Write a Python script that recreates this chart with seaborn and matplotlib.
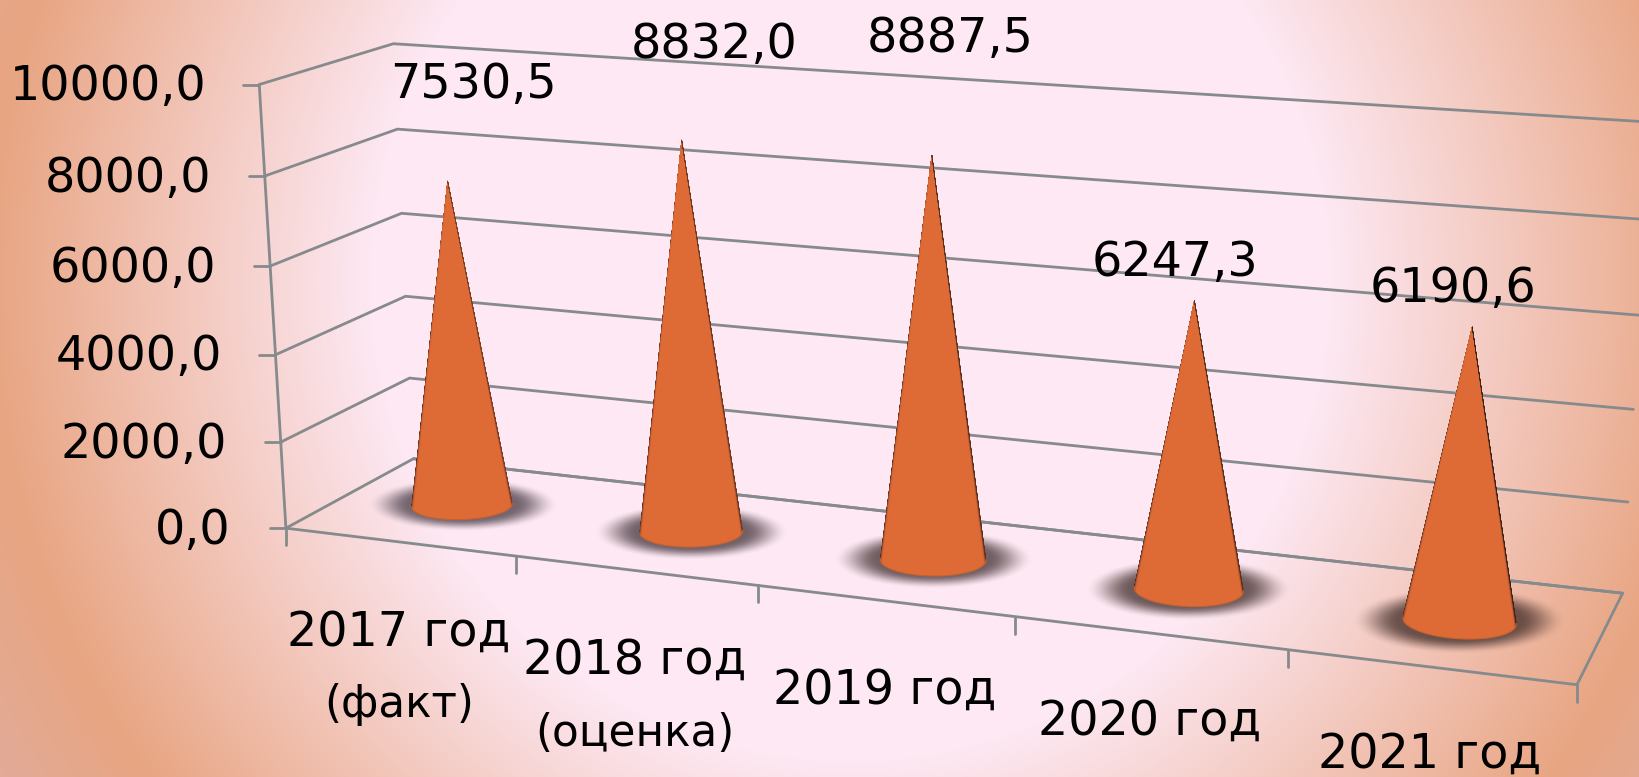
import numpy as np
import pandas as pd
import matplotlib
matplotlib.use("Agg")
import matplotlib.pyplot as plt
from matplotlib.collections import PolyCollection
from matplotlib.patches import Polygon
import seaborn as sns

# ---------- data ----------
categories = ["2017 год\n(факт)", "2018 год\n(оценка)", "2019 год", "2020 год", "2021 год"]
values = [7530.5, 8832.0, 8887.5, 6247.3, 6190.6]
value_labels = ["7530,5", "8832,0", "8887,5", "6247,3", "6190,6"]
y_ticks = [0, 2000, 4000, 6000, 8000, 10000]
y_tick_labels = ["0,0", "2000,0", "4000,0", "6000,0", "8000,0", "10000,0"]

# ---------- placement (screen pixels) ----------
W, H = 1640, 777
value_label_xy = [(473, 85), (714, 44), (950, 38), (1175, 263), (1453, 288)]
cat_label_xy = [(399, 632), (635, 660), (885, 690), (1150, 721), (1430, 754)]
second_line_dy = 73
ytick_label_xy = [(231, 531), (227, 445), (222, 357), (216, 269), (211, 178), (206, 87)]

# Camera calibration: (category pos, value, depth) -> screen pixel
calib = [
    (0, 10000, 0, 259, 83.3), (0, 8000, 0, 265, 175), (0, 2000, 0, 280, 441.7), (0, 0, 0, 286.4, 527.3),
    (0, 10000, 1, 393, 43.3), (0, 8000, 1, 397.5, 129), (0, 6000, 1, 402, 213), (0, 0, 1, 413, 459),
    (5, 0, 0, 1576.7, 684.3), (5, 0, 1, 1622.7, 592.7), (5, 2000, 1, 1628, 501.7), (5, 10000, 1, 1650, 121),
    (1, 0, 0, 515.7, 556.7), (2, 0, 0, 758, 585.7), (3, 0, 0, 1016, 617), (4, 0, 0, 1287.7, 650),
    (.5, 7530.5, .5, 448.7, 183), (1.5, 8832, .5, 682, 141), (2.5, 8887.5, .5, 931, 157),
    (3.5, 6247.3, .5, 1193.5, 301), (4.5, 6190.6, .5, 1473, 327),
]
rows = []
for x, y, z, u, v in calib:
    X = [x / 5, y / 1e4, z, 1]
    rows.append(X + [0, 0, 0, 0] + [-u / 1000 * c for c in X])
    rows.append([0, 0, 0, 0] + X + [-v / 1000 * c for c in X])
P = np.linalg.svd(np.array(rows))[2][-1].reshape(3, 4)


def project(x, y, z):
    x, y, z = np.broadcast_arrays(np.asarray(x, float), np.asarray(y, float), np.asarray(z, float))
    X = np.stack([x / 5, y / 1e4, z, np.ones_like(x)])
    q = P @ X
    return q[0] / q[2] * 1000, q[1] / q[2] * 1000


# ---------- figure ----------
sns.set_theme(style="white")
plt.rcParams["font.family"] = ["DejaVu Sans"]
fig = plt.figure(figsize=(W / 100, H / 100), dpi=100)
ax = fig.add_axes([0, 0, 1, 1])
ax.set_axis_off()

# background
yy, xx = np.mgrid[0:H, 0:W]
d = np.hypot(xx - 850, yy - 280)
stops = [0, 480, 860, 1000]
cols = np.array([(253, 232, 243), (253, 232, 243), (232, 165, 130), (225, 172, 155)], float) / 255
bg = np.dstack([np.interp(d, stops, cols[:, i]) for i in range(3)])
ax.imshow(bg, extent=(0, W, H, 0), aspect="auto", zorder=0)

LINE = "#868a8c"
LW = 2.0


def line3d(xs, ys, zs):
    u, v = project(xs, ys, zs)
    df = pd.DataFrame({"u": u, "v": v})
    sns.lineplot(data=df, x="u", y="v", sort=False, estimator=None, color=LINE,
                 linewidth=LW, ax=ax, zorder=2)


for t in y_ticks:
    line3d([0, 0, 5], [t, t, t], [0, 1, 1])
    u, v = project(0, t, 0)
    ax.plot([u - 16, u], [v, v], color=LINE, lw=LW, zorder=2)
line3d([0, 5, 5, 0], [0, 0, 0, 0], [0, 0, 1, 1])
line3d([0, 0], [0, 10000], [0, 0])
for k in range(6):
    u, v = project(k, 0, 0)
    ax.plot([u, u], [v, v + 17], color=LINE, lw=LW, zorder=2)

# cones
rx, rz = 0.2, 0.19
base_col = np.array([222, 106, 54]) / 255
dark_col = np.array([45, 28, 22]) / 255
th = np.linspace(0, 2 * np.pi, 361)[:-1]
for i, val in enumerate(values):
    cx = i + 0.5
    cz = 0.5
    cu, cv = project(cx, 0, cz)
    au, av = project(cx, val, cz)
    # shadow
    su, sv = project(cx + rx * np.cos(th), 0 * th, cz + rz * np.sin(th))
    srx = (su.max() - su.min()) / 2 * 1.9
    sry = (sv.max() - sv.min()) / 2 * 1.85
    gy, gx = np.mgrid[-1.2:1.2:160j, -1.2:1.2:320j]
    r = np.hypot(gx, gy)
    alpha = np.clip((1 - r) / 0.45, 0, 1)
    alpha = alpha * alpha * (3 - 2 * alpha) * 0.8
    shadow = np.zeros(gx.shape + (4,))
    shadow[..., :3] = (np.array([82, 68, 78]) * (1 - i / 4) + np.array([72, 50, 45]) * (i / 4)) / 255
    shadow[..., 3] = alpha
    ax.imshow(shadow, extent=(cu - 1.2 * srx, cu + 1.2 * srx, cv + 1.2 * sry, cv - 1.2 * sry),
              aspect="auto", zorder=3, interpolation="bilinear")
    # cone surface
    pu, pv = project(cx + rx * np.cos(th), 0 * th, cz + rz * np.sin(th))
    ax_dir = np.array([cu - au, cv - av])
    ax_dir /= np.hypot(*ax_dir)
    nrm = np.array([ax_dir[1], -ax_dir[0]])
    ang = np.arctan2((pu - au) * nrm[0] + (pv - av) * nrm[1], (pu - au) * ax_dir[0] + (pv - av) * ax_dir[1])
    il, ir = int(np.argmin(ang)), int(np.argmax(ang))
    low = int(np.argmax(pv))
    n = len(th)
    arc1 = [(il + k) % n for k in range(((ir - il) % n) + 1)]
    arc2 = [(ir + k) % n for k in range(((il - ir) % n) + 1)]
    arc = arc1 if low in arc1 else arc2
    outline = [(au, av)] + [(pu[a], pv[a]) for a in arc]
    ax.add_patch(Polygon(outline, closed=True, facecolor=base_col, edgecolor="none", zorder=4))
    lat = ang[arc] / max(abs(ang[il]), abs(ang[ir]))
    polys, colors = [], []
    for a, b, l in zip(arc[:-1], arc[1:], lat[:-1]):
        nn = np.sqrt(max(0.0, 1 - l * l))
        dk = np.clip(1 - nn / 0.3, 0, 1) ** 1.3
        if dk > 0:
            polys.append([(au, av), (pu[a], pv[a]), (pu[b], pv[b])])
            colors.append(tuple(base_col * (1 - dk) + dark_col * dk))
    ax.add_collection(PolyCollection(polys, facecolors=colors, edgecolors=colors, linewidths=0.25, zorder=5))
    ax.plot(pu[arc], pv[arc], color="#c4622f", lw=0.8, zorder=5)

# text
FS = 34.3
FS2 = 31.5
for lab, (u, v) in zip(y_tick_labels, ytick_label_xy):
    ax.text(u, v, lab, ha="right", va="center", fontsize=FS, color="black", zorder=6)
for lab, (u, v) in zip(value_labels, value_label_xy):
    ax.text(u, v, lab, ha="center", va="center", fontsize=FS, color="black", zorder=6)
for lab, (u, v) in zip(categories, cat_label_xy):
    for j, part in enumerate(lab.split("\n")):
        ax.text(u, v + j * second_line_dy, part, ha="center", va="center",
                fontsize=FS if j == 0 else FS2, color="black", zorder=6)

ax.set_xlim(0, W)
ax.set_ylim(H, 0)
ax.set_xlabel("")
ax.set_ylabel("")
fig.savefig("out.png", dpi=100)
